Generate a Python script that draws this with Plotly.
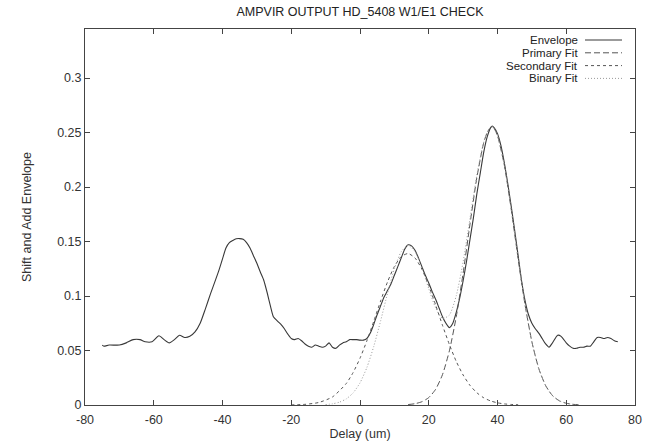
import plotly.graph_objects as go

# ---- data ----
env_x = [-75, -74.5, -73, -70, -68, -66, -64, -62.5, -60.5, -58.5, -57, -55.5, -54, -52.5, -51, -49.5,
         -48, -46.5, -45, -43.5, -42, -41, -40, -39, -38, -37, -36, -35, -34, -33, -32, -31, -30,
         -29, -28, -27, -26, -25.2, -24, -23, -22, -21, -20, -19, -18, -17, -16, -15, -14, -13, -12,
         -11, -10, -9, -8, -7, -6, -5, -4, -3, -2, -1, 0, 1, 2, 3, 4, 5, 6, 7, 8, 9, 10, 11, 12, 13,
         14, 15, 16, 17, 18, 19, 20, 21, 22, 23, 24, 25, 26, 27, 28, 29, 30, 31, 32, 33, 34, 35, 36,
         37, 38, 38.5, 39, 40, 41, 42, 43, 44, 45, 46, 47, 48, 49, 50, 51, 52, 53, 54, 55, 56, 57.5,
         58.5, 60, 61, 62, 63, 64, 65, 66, 67, 68, 69, 70, 71, 72, 73, 74, 75]
env_y = [0.055, 0.054, 0.055, 0.055, 0.057, 0.060, 0.060, 0.058, 0.058, 0.0635, 0.060, 0.057, 0.060,
         0.064, 0.062, 0.063, 0.067, 0.075, 0.088, 0.102, 0.115, 0.124, 0.134, 0.144, 0.149, 0.151,
         0.1525, 0.1527, 0.152, 0.149, 0.144, 0.137, 0.130, 0.122, 0.1145, 0.103, 0.090, 0.081, 0.077,
         0.074, 0.070, 0.065, 0.061, 0.060, 0.061, 0.059, 0.056, 0.054, 0.053, 0.055, 0.054, 0.053,
         0.054, 0.057, 0.053, 0.052, 0.055, 0.057, 0.058, 0.060, 0.060, 0.060, 0.0595, 0.0595, 0.061,
         0.066, 0.074, 0.083, 0.091, 0.099, 0.105, 0.111, 0.119, 0.127, 0.135, 0.143, 0.147, 0.146,
         0.142, 0.135, 0.127, 0.119, 0.112, 0.104, 0.097, 0.089, 0.081, 0.075, 0.071, 0.075, 0.085,
         0.098, 0.114, 0.132, 0.152, 0.172, 0.194, 0.213, 0.232, 0.246, 0.2545, 0.256, 0.2545, 0.249,
         0.238, 0.222, 0.203, 0.182, 0.160, 0.137, 0.114, 0.096, 0.083, 0.075, 0.070, 0.066, 0.061,
         0.056, 0.053, 0.057, 0.064, 0.063, 0.057, 0.054, 0.052, 0.052, 0.053, 0.053, 0.054, 0.054,
         0.058, 0.062, 0.062, 0.061, 0.062, 0.061, 0.059, 0.058]

prim_x = [14, 16, 18, 20, 22, 24, 26, 28, 30, 32, 34, 36, 37, 38, 39, 40, 42, 44, 46, 48, 50, 52,
          54, 56, 58, 60, 62, 64]
prim_y = [0.0004, 0.0012, 0.0030, 0.0068, 0.0144, 0.0279, 0.0497, 0.0810, 0.1210, 0.1660, 0.2088,
          0.2408, 0.2500, 0.2547, 0.2537, 0.2471, 0.2199, 0.1795, 0.1343, 0.0922, 0.0580, 0.0335,
          0.0178, 0.0086, 0.0038, 0.0016, 0.0006, 0.0002]

sec_x = [-20, -16, -12, -8, -4, -2, 0, 2, 4, 6, 8, 10, 12, 14, 16, 18, 20, 22, 24, 26, 28, 30, 32,
         34, 36, 38, 40, 42, 44, 46]
sec_y = [0.0001, 0.0006, 0.0023, 0.0074, 0.0197, 0.0298, 0.0429, 0.0589, 0.0768, 0.0955, 0.1129,
         0.1271, 0.1362, 0.1390, 0.1349, 0.1247, 0.1096, 0.0918, 0.0731, 0.0555, 0.0400, 0.0275,
         0.0180, 0.0112, 0.0066, 0.0037, 0.0020, 0.0010, 0.0005, 0.0002]

bin_x = [-10, -8, -6, -4, -2, 0, 2, 4, 6, 8, 10, 12, 14, 16, 18, 20, 22, 24, 26, 28, 30, 32, 34,
         36, 37, 38, 39, 40, 42, 44, 46, 48, 50, 52, 54, 56, 58, 60, 62, 64]
bin_y = [0.0004, 0.0011, 0.0026, 0.0056, 0.0111, 0.0203, 0.0344, 0.0537, 0.0772, 0.1024, 0.1250,
         0.1407, 0.1464, 0.1408, 0.1260, 0.1067, 0.0891, 0.0794, 0.0825, 0.1002, 0.1314, 0.1712,
         0.2112, 0.2415, 0.2502, 0.2549, 0.2537, 0.2471, 0.2199, 0.1795, 0.1343, 0.0922, 0.0580,
         0.0335, 0.0178, 0.0086, 0.0038, 0.0016, 0.0006, 0.0002]

x_ticks = [-80, -60, -40, -20, 0, 20, 40, 60, 80]
x_tick_text = ["-80", "-60", "-40", "-20", "0", "20", "40", "60", "80"]
y_ticks = [0, 0.05, 0.1, 0.15, 0.2, 0.25, 0.3]
y_tick_text = ["0", "0.05", "0.1", "0.15", "0.2", "0.25", "0.3"]

names = ["Envelope", "Primary Fit", "Secondary Fit", "Binary Fit"]
styles = [("#383838", "solid", 1.1), ("#555555", "6px,3px", 1.0),
          ("#555555", "3px,3px", 1.0), ("#9a9a9a", "1px,2px", 1.0)]

FONT = "Liberation Sans, Arial, sans-serif"

fig = go.Figure()
for (xs, ys), nm, (col, dash, w) in zip(
        [(env_x, env_y), (prim_x, prim_y), (sec_x, sec_y), (bin_x, bin_y)], names, styles):
    fig.add_trace(go.Scatter(x=xs, y=ys, mode="lines", name=nm, showlegend=False,
                             line=dict(color=col, dash=dash, width=w, shape="spline", smoothing=0.6)))

# gnuplot-style key: text right-aligned, sample line to its right
W, H = 654, 447
L, R, T, B = 85, 635, 29, 405
key_text_x = 578
key_y0 = 40
key_dy = 12.8
for i, (nm, (col, dash, w)) in enumerate(zip(names, styles)):
    ypix = key_y0 + i * key_dy
    yp = 1 - (ypix - T) / (B - T)
    fig.add_annotation(xref="paper", yref="paper", x=(key_text_x - L) / (R - L),
                       y=yp, text=nm, showarrow=False, borderpad=0,
                       xanchor="right", yanchor="middle", xshift=1,
                       font=dict(family=FONT, size=11.5, color="#222222"))
    fig.add_shape(type="line", xref="paper", yref="paper",
                  x0=(585 - L) / (R - L), x1=(622 - L) / (R - L), y0=yp, y1=yp,
                  line=dict(color=col, dash=dash, width=w))

fig.update_layout(
    width=W, height=H,
    margin=dict(l=L, r=W - R, t=T, b=H - B, autoexpand=False),
    paper_bgcolor="white", plot_bgcolor="white",
    font=dict(family=FONT, size=13, color="#333333"),
    title=dict(text="AMPVIR OUTPUT HD_5408 W1/E1 CHECK", x=0.5, xref="paper", xanchor="center",
               yref="container", y=1 - 12 / H, yanchor="middle",
               font=dict(family=FONT, size=12.5, color="#222222")),
)

fig.update_xaxes(range=[-80, 80], tickvals=x_ticks, ticktext=x_tick_text, ticks="inside",
                 ticklen=5, tickcolor="#444444", showline=True, linecolor="#444444", linewidth=1,
                 mirror="ticks", showgrid=False, zeroline=False, ticklabelstandoff=3,
                 automargin=False,
                 title=dict(text="Delay (um)", font=dict(family=FONT, size=12.5, color="#333333"),
                            standoff=2),
                 tickfont=dict(family=FONT, size=12.5, color="#333333"))
fig.update_yaxes(range=[0, 0.345], tickvals=y_ticks, ticktext=y_tick_text, ticks="inside",
                 ticklen=5, tickcolor="#444444", showline=True, linecolor="#444444", linewidth=1,
                 mirror="ticks", showgrid=False, zeroline=False, automargin=False,
                 title=dict(text="Shift and Add Envelope",
                            font=dict(family=FONT, size=12.5, color="#333333"), standoff=22),
                 tickfont=dict(family=FONT, size=12.5, color="#333333"))

fig.write_html("out.html")
